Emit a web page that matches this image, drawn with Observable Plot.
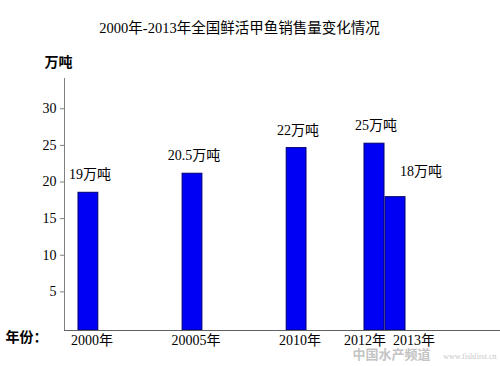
<!DOCTYPE html>
<html>
<head>
<meta charset="utf-8">
<script src="https://cdn.jsdelivr.net/npm/d3@7"></script>
<script src="https://cdn.jsdelivr.net/npm/@observablehq/plot@0.6"></script>
<style>
  html, body { margin: 0; padding: 0; background: #fff; }
</style>
</head>
<body>
<div id="chart"></div>
<script>
const title = "2000年-2013年全国鲜活甲鱼销售量变化情况";
const unitLabel = "万吨";
const xTitle = "年份：";
const watermark = "中国水产频道";
const watermarkUrl = "www.fishfirst.cn";
const years = [2000, 2005, 2010, 2012, 2013];
const xLabels = ["2000年", "20005年", "2010年", "2012年", "2013年"];
const barValues = [18.8, 21.4, 24.9, 25.5, 18.2];
const valueLabels = ["19万吨", "20.5万吨", "22万吨", "25万吨", "18万吨"];
const yTicks = [5, 10, 15, 20, 25, 30];

const data = years.map((year, i) => ({
  year, xLabel: xLabels[i], value: barValues[i], label: valueLabels[i]
}));
const last = data.slice(-1);
const firsts = data.slice(0, -1);

const font = '"Liberation Serif", "Noto Sans CJK SC", serif';

const chart = Plot.plot({
  width: 500,
  height: 366,
  marginLeft: 64,
  marginRight: 0,
  marginTop: 78,
  marginBottom: 36,
  style: { fontFamily: font, fontSize: "14px", background: "#fff", color: "#000" },
  x: { type: "linear", domain: [2000, 2011, 2012, 2014], range: [77, 306, 363, 405], axis: null },
  y: { domain: [0, 34.4], axis: null },
  marks: [
    Plot.frame({ anchor: "left", stroke: "#808080" }),
    Plot.axisY({ ticks: yTicks, tickSize: 4, tickPadding: 4, label: null, stroke: "#808080", dy: -2, fontSize: 14 }),
    Plot.rectY(data, { x: "year", interval: 1, y: "value", fill: "#0000f5", stroke: "#000070", strokeWidth: 1 }),
    Plot.ruleY([0], { stroke: "#606060" }),
    Plot.text(firsts, { x: d => d.year + 0.5, y: "value", text: "label", dy: -18, dx: 2, fontSize: 14 }),
    Plot.text(last, { x: d => d.year + 0.5, y: "value", text: "label", dx: 26, dy: -26, fontSize: 14 }),
    Plot.text(data.slice(0, 3), { x: d => d.year + 0.5, text: "xLabel", frameAnchor: "bottom", dy: 14, dx: 4, fontSize: 14 }),
    Plot.text(data.slice(3, 4), { x: d => d.year + 0.5, text: "xLabel", frameAnchor: "bottom", dy: 14, dx: -9, fontSize: 14 }),
    Plot.text(data.slice(4), { x: d => d.year + 0.5, text: "xLabel", frameAnchor: "bottom", dy: 14, dx: 19, fontSize: 14 }),
    Plot.text([xTitle], { frameAnchor: "bottom-left", text: d => d, dx: -59, dy: 11, textAnchor: "start", fontSize: 14, fontWeight: "bold" }),
    Plot.text([unitLabel], { frameAnchor: "top-left", text: d => d, dx: -20, dy: -21, textAnchor: "start", fontSize: 14, fontWeight: "bold" }),
    Plot.text([title], { frameAnchor: "top", text: d => d, dx: -43, dy: -56, fontSize: 14.5 }),
    Plot.text([watermark], { frameAnchor: "bottom-right", text: d => d, dx: -70, dy: 28, textAnchor: "end", fontSize: 13, fontWeight: "bold", fill: "#c4c4c4" }),
    Plot.text([watermarkUrl], { frameAnchor: "bottom-right", text: d => d, dx: -4, dy: 28, textAnchor: "end", fontSize: 8, fill: "#c8c8c8" })
  ]
});
document.getElementById("chart").appendChild(chart);
</script>
</body>
</html>
